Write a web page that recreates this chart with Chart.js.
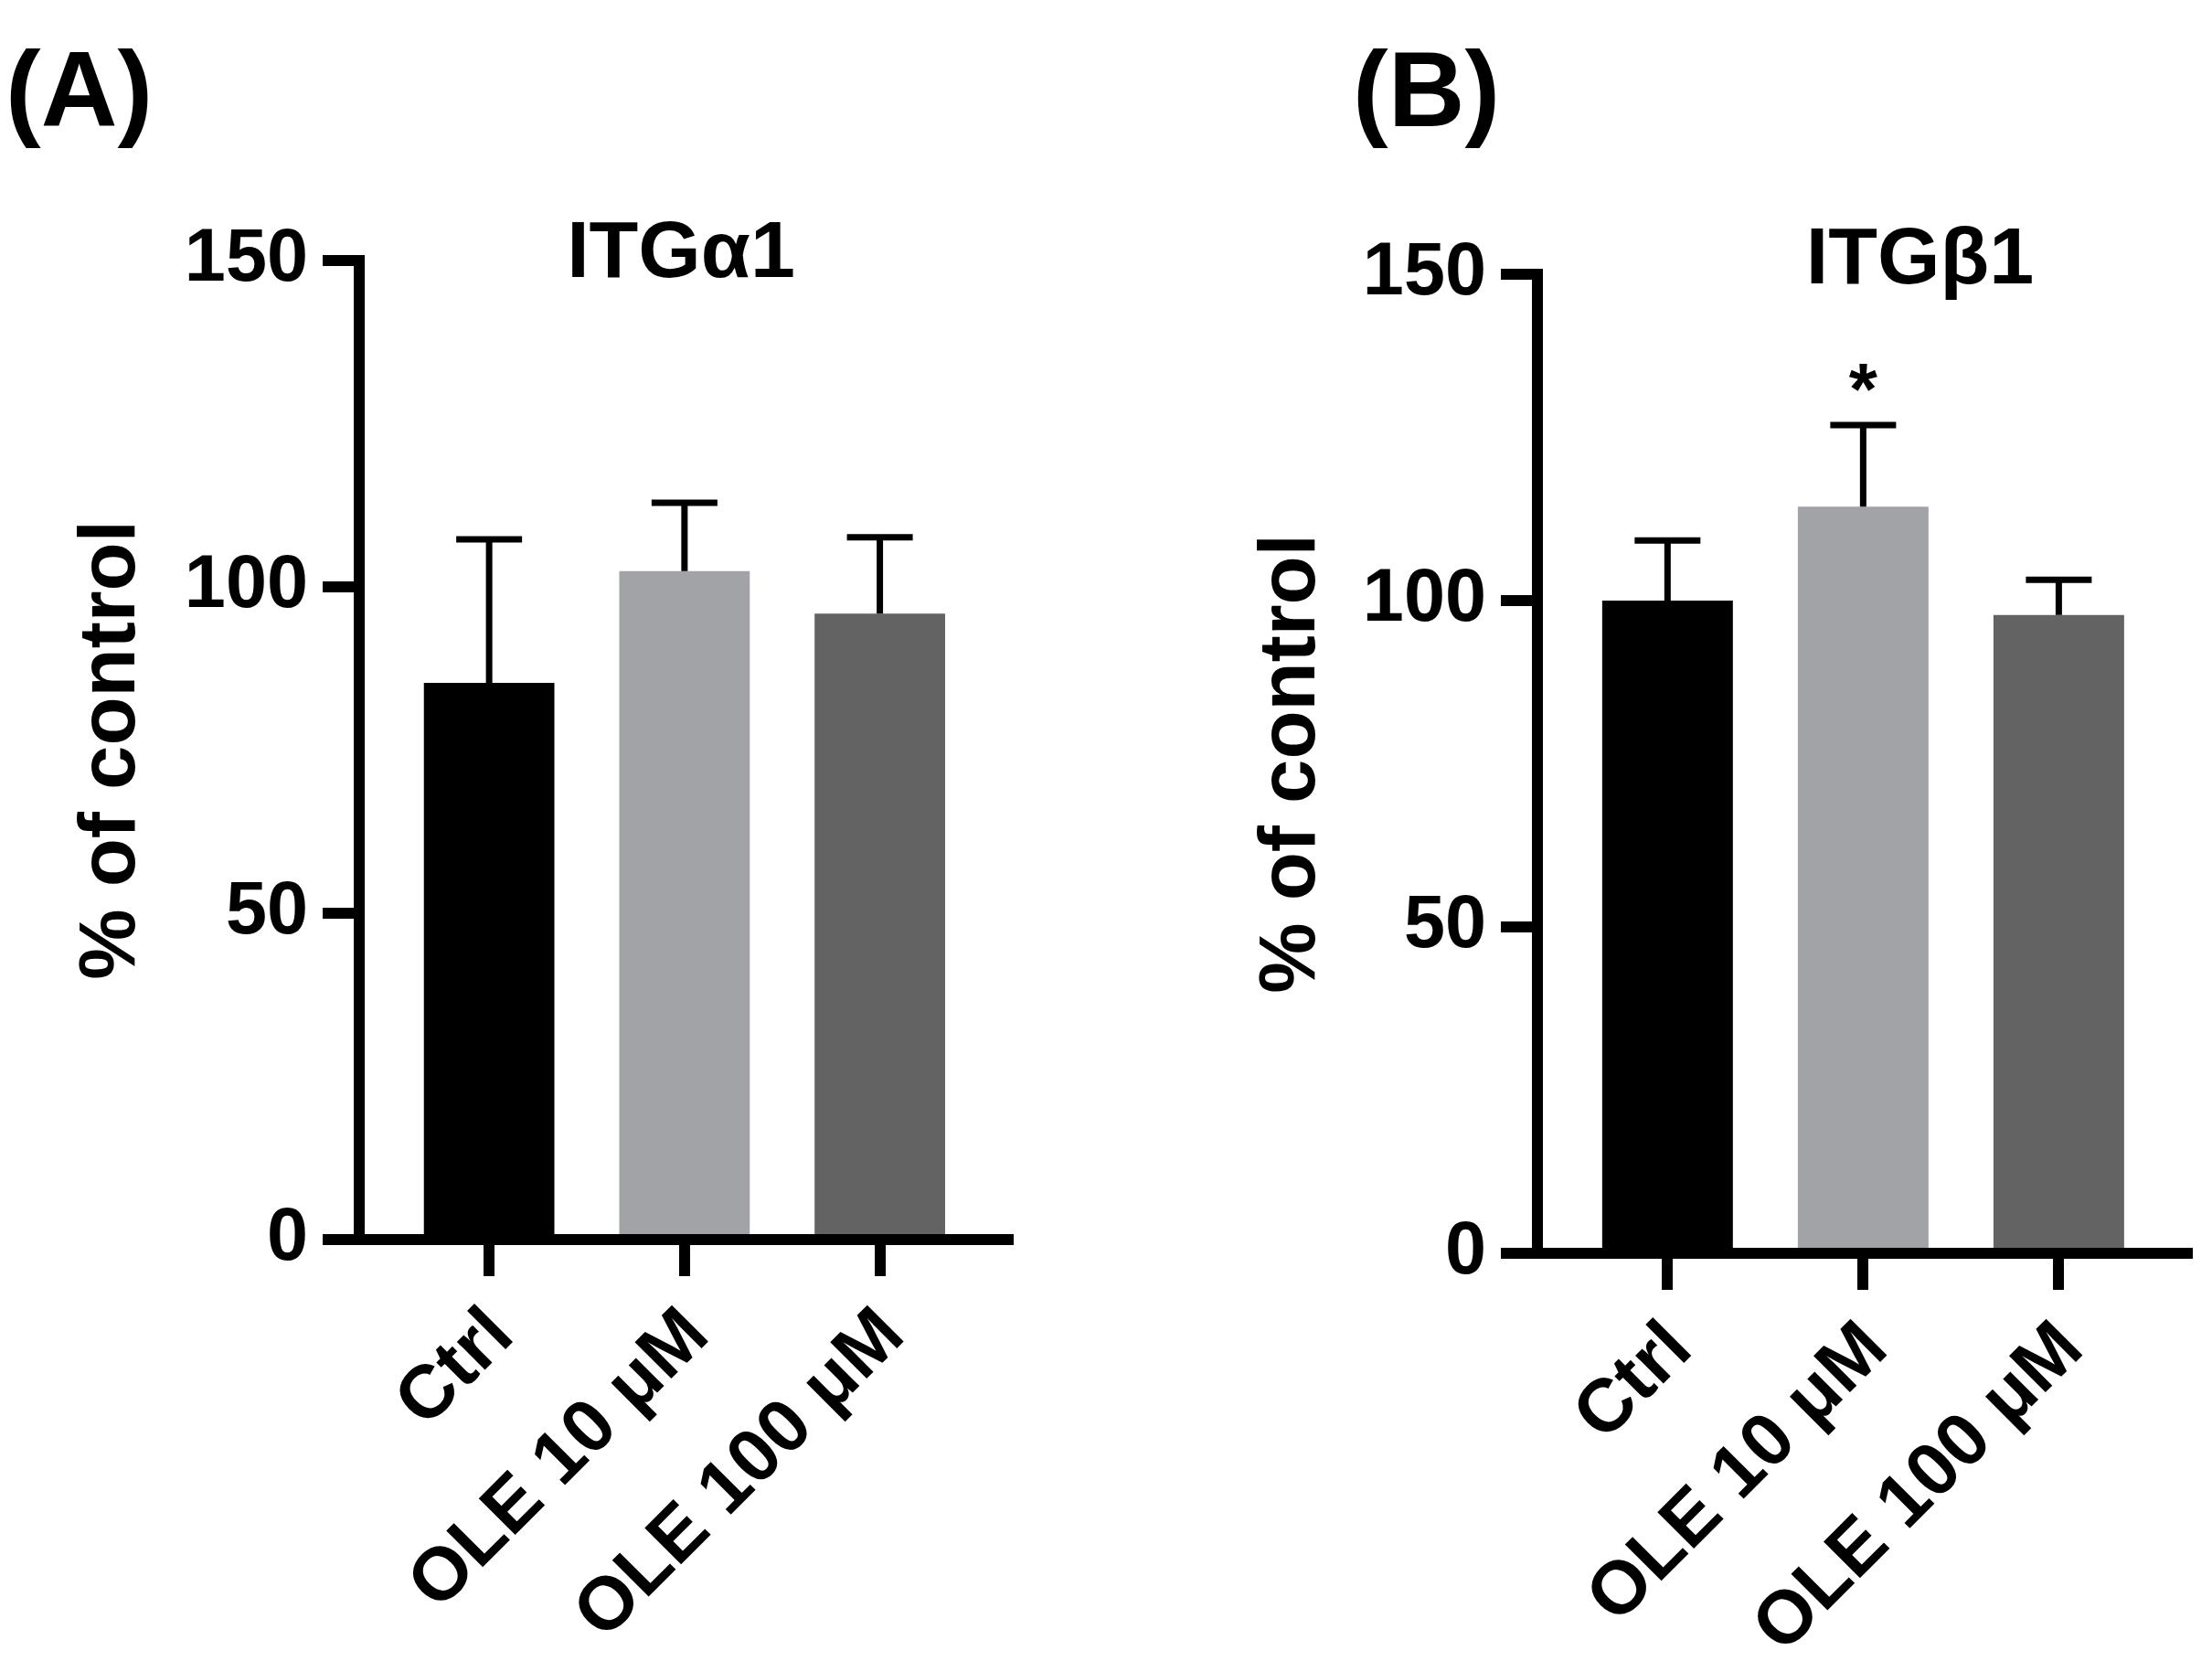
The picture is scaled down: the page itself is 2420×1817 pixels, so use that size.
<!DOCTYPE html>
<html><head><meta charset="utf-8">
<script src="https://cdn.jsdelivr.net/npm/chart.js@4.4.1/dist/chart.umd.min.js"></script>
<style>
html,body{margin:0;padding:0;background:#fff;}
#wrap{position:relative;width:2420px;height:1817px;background:#fff;}
canvas{position:absolute;top:0;}
</style></head><body>
<div id="wrap">
<canvas id="cA" width="1210" height="1817" style="left:0;width:1210px;height:1817px"></canvas>
<canvas id="cB" width="1210" height="1817" style="left:1210px;width:1210px;height:1817px"></canvas>
</div>
<script>
// ---- data ----
const categories = ['Ctrl', 'OLE 10 μM', 'OLE 100 μM'];
const yTicks = [0, 50, 100, 150];
const barColors = ['#000000', '#a2a3a7', '#636363'];
const itga1Mean = [85.3, 102.4, 95.9];
const itga1Err = [22.0, 10.5, 11.7];
const itgb1Mean = [100.0, 114.4, 97.8];
const itgb1Err = [9.2, 12.5, 5.4];
const itgb1Sig = ['', '*', ''];

const FONT = "'Liberation Sans', Arial, sans-serif";

const errorBarPlugin = {
  id: 'errorBars',
  afterDatasetsDraw(chart, args, opts) {
    const ctx = chart.ctx, ys = chart.scales.y;
    const ds = chart.data.datasets[0];
    const meta = chart.getDatasetMeta(0);
    ctx.save();
    ctx.strokeStyle = '#000';
    ctx.lineWidth = opts.lineWidth;
    ctx.lineCap = 'butt';
    meta.data.forEach((bar, i) => {
      const topPx = ys.getPixelForValue(ds.means[i] + ds.errors[i]);
      ctx.beginPath();
      ctx.moveTo(bar.x, bar.y);
      ctx.lineTo(bar.x, topPx);
      ctx.moveTo(bar.x - opts.capWidth / 2, topPx);
      ctx.lineTo(bar.x + opts.capWidth / 2, topPx);
      ctx.stroke();
      const s = ds.sig ? ds.sig[i] : '';
      if (s) {
        ctx.fillStyle = '#000';
        ctx.font = 'bold ' + opts.sigSize + 'px ' + FONT;
        ctx.textAlign = 'center';
        ctx.textBaseline = 'alphabetic';
        ctx.fillText(s, bar.x, topPx - opts.sigGap);
      }
    });
    ctx.restore();
  }
};

const panelTextPlugin = {
  id: 'panelText',
  afterDraw(chart, args, opts) {
    const ctx = chart.ctx, ca = chart.chartArea;
    ctx.save();
    ctx.fillStyle = '#000';
    ctx.textBaseline = 'alphabetic';
    ctx.font = 'bold ' + opts.letterSize + 'px ' + FONT;
    ctx.textAlign = 'left';
    ctx.fillText(opts.letter, opts.letterX, opts.letterY);
    ctx.font = 'bold ' + opts.titleSize + 'px ' + FONT;
    ctx.textAlign = 'center';
    ctx.fillText(opts.title, (ca.left + ca.right) / 2 + opts.titleDx, opts.titleY);
    ctx.restore();
  }
};

function makeChart(id, means, errors, sig, cfg) {
  const axisCommon = {
    border: { display: true, color: '#000', width: 12 },
    grid: { display: true, drawOnChartArea: false, drawTicks: true, tickLength: 40,
            tickWidth: 12, tickColor: '#000', lineWidth: 12, color: '#000', offset: false }
  };
  return new Chart(document.getElementById(id), {
    type: 'bar',
    data: {
      datasets: [{
        data: means.map((v, i) => ({ x: i, y: v })),
        means: means, errors: errors, sig: sig,
        backgroundColor: barColors,
        borderWidth: 0,
        barPercentage: 0.668,
        categoryPercentage: 1.0
      }]
    },
    options: {
      responsive: false,
      animation: false,
      devicePixelRatio: 1,
      layout: { padding: { left: 0, top: cfg.top, right: cfg.right, bottom: 0 } },
      plugins: {
        legend: { display: false },
        tooltip: { enabled: false },
        title: { display: false },
        errorBars: { lineWidth: 7, capWidth: 72, sigSize: 80, sigGap: 12 },
        panelText: cfg.text
      },
      scales: {
        x: Object.assign({}, axisCommon, {
          type: 'linear',
          offset: false,
          min: -0.665, max: 2.657,
          afterBuildTicks: s => { s.ticks = categories.map((c, i) => ({ value: i })); },
          afterFit: s => { s.height = cfg.xHeight; },
          ticks: {
            autoSkip: false, minRotation: 45, maxRotation: 45, padding: 17, labelOffset: 14,
            color: '#000', font: { family: FONT, weight: 'bold', size: 82 },
            callback: v => categories[v]
          }
        }),
        y: Object.assign({}, axisCommon, {
          type: 'linear',
          min: 0, max: 150,
          afterBuildTicks: s => { s.ticks = yTicks.map(v => ({ value: v })); },
          afterFit: s => { s.width = cfg.yWidth; },
          ticks: { padding: 16, color: '#000', font: { family: FONT, weight: 'bold', size: 81 } },
          title: { display: true, text: '% of control', color: '#000',
                   font: { family: FONT, weight: 'bold', size: 87 },
                   padding: { top: cfg.yTitlePad, bottom: 0 } }
        })
      }
    },
    plugins: [errorBarPlugin, panelTextPlugin]
  });
}

makeChart('cA', itga1Mean, itga1Err, null, {
  top: 285, right: 107, xHeight: 461, yWidth: 393, yTitlePad: 71,
  text: { letter: '(A)', letterX: 6, letterY: 138, letterSize: 116,
          title: 'ITGα1', titleDx: -3, titleY: 303, titleSize: 88 }
});
makeChart('cB', itgb1Mean, itgb1Err, itgb1Sig, {
  top: 300, right: 27, xHeight: 446, yWidth: 472, yTitlePad: 152,
  text: { letter: '(B)', letterX: 270, letterY: 138, letterSize: 116,
          title: 'ITGβ1', titleDx: 63, titleY: 310, titleSize: 88 }
});
</script>
</body></html>
